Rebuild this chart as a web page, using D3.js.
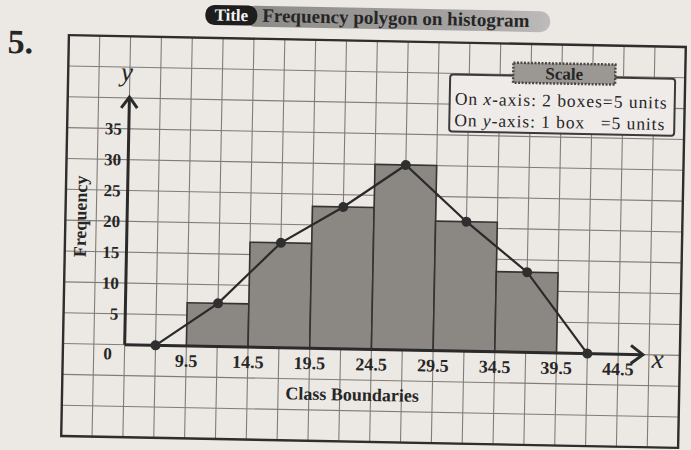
<!DOCTYPE html>
<html>
<head>
<meta charset="utf-8">
<script src="https://cdnjs.cloudflare.com/ajax/libs/d3/7.8.5/d3.min.js"></script>
<style>
  body { margin: 0; background: #ece8e3; }
  svg { display: block; }
  text { font-family: "Liberation Serif", "Times New Roman", serif; fill: #262626; }
</style>
</head>
<body>
<div id="chart"></div>
<script>
// histogram data
var boundaries = [9.5, 14.5, 19.5, 24.5, 29.5, 34.5, 39.5, 44.5];
var frequencies = [7, 17, 23, 30, 21, 13];
// frequency polygon: class midpoints, with an empty class on each side
var midpoints = [7, 12, 17, 22, 27, 32, 37, 42];
var polygonFreq = [0, 7, 17, 23, 30, 21, 13, 0];
var xTickLabels = ["9.5", "14.5", "19.5", "24.5", "29.5", "34.5", "39.5", "44.5"];
var yTicks = [5, 10, 15, 20, 25, 30, 35];

var W = 691, H = 450;

var svg = d3.select("#chart").append("svg")
    .attr("width", W)
    .attr("height", H);

// the page in the scan sits slightly crooked
var page = svg.append("g")
    .attr("transform", "rotate(1.1,373.5,241.7)");

// graph paper: 2 boxes = 5 units on x, 1 box = 5 units on y
var x = d3.scaleLinear().domain([-0.5, 49.5]).range([65, 682]);
var y = d3.scaleLinear().domain([-15, 50]).range([442, 41]);

var grid = page.append("g").attr("class", "grid");
grid.selectAll("line.v")
    .data(d3.range(-0.5, 49.6, 2.5))
  .enter().append("line")
    .attr("class", "v")
    .attr("x1", function(d) { return x(d); })
    .attr("x2", function(d) { return x(d); })
    .attr("y1", y(50)).attr("y2", y(-15))
    .attr("stroke", "#807c79").attr("stroke-width", 1.1);
grid.selectAll("line.h")
    .data(d3.range(-15, 50.1, 5))
  .enter().append("line")
    .attr("class", "h")
    .attr("y1", function(d) { return y(d); })
    .attr("y2", function(d) { return y(d); })
    .attr("x1", x(-0.5)).attr("x2", x(49.5))
    .attr("stroke", "#807c79").attr("stroke-width", 1.1);

// frame
page.append("rect")
    .attr("x", x(-0.5)).attr("y", y(50))
    .attr("width", x(49.5) - x(-0.5))
    .attr("height", y(-15) - y(50))
    .attr("fill", "none")
    .attr("stroke", "#2e2e2e").attr("stroke-width", 2.4);

// histogram bars
var bars = [];
frequencies.forEach(function(f, i) {
  bars.push({ x0: boundaries[i], x1: boundaries[i + 1], f: f });
});
page.selectAll("rect.bar")
    .data(bars)
  .enter().append("rect")
    .attr("class", "bar")
    .attr("x", function(d) { return x(d.x0); })
    .attr("y", function(d) { return y(d.f); })
    .attr("width", function(d) { return x(d.x1) - x(d.x0); })
    .attr("height", function(d) { return y(0) - y(d.f); })
    .attr("fill", "#8b8783")
    .attr("stroke", "#353331").attr("stroke-width", 1.6);

// axes with arrow heads
var ax = page.append("g").attr("stroke", "#2a2a2a").attr("stroke-width", 3).attr("fill", "none");
ax.append("line")
    .attr("x1", x(4.5)).attr("y1", y(0))
    .attr("x2", x(46.5)).attr("y2", y(0));
ax.append("line")
    .attr("x1", x(4.5)).attr("y1", y(0))
    .attr("x2", x(4.5)).attr("y2", y(40) - 1);
ax.append("path")
    .attr("d", "M" + (x(46.5) - 12) + "," + (y(0) - 9) + "L" + x(46.5) + "," + y(0) + "L" + (x(46.5) - 12) + "," + (y(0) + 9));
ax.append("path")
    .attr("d", "M" + (x(4.5) - 8) + "," + (y(40) + 10) + "L" + x(4.5) + "," + (y(40) - 1) + "L" + (x(4.5) + 8) + "," + (y(40) + 10));

// frequency polygon
var line = d3.line()
    .x(function(d, i) { return x(midpoints[i]); })
    .y(function(d) { return y(d); });
page.append("path")
    .datum(polygonFreq)
    .attr("d", line)
    .attr("fill", "none")
    .attr("stroke", "#2a2a2a").attr("stroke-width", 2.2);
page.selectAll("circle.pt")
    .data(polygonFreq)
  .enter().append("circle")
    .attr("class", "pt")
    .attr("cx", function(d, i) { return x(midpoints[i]); })
    .attr("cy", function(d) { return y(d); })
    .attr("r", 5)
    .attr("fill", "#2f2f2f");

// tick labels
page.selectAll("text.xt")
    .data(boundaries)
  .enter().append("text")
    .attr("class", "xt")
    .attr("x", function(d) { return x(d); })
    .attr("y", y(0) + 21)
    .attr("text-anchor", "middle")
    .style("font-size", "18px").style("font-weight", "bold")
    .text(function(d, i) { return xTickLabels[i]; });
page.selectAll("text.yt")
    .data(yTicks)
  .enter().append("text")
    .attr("class", "yt")
    .attr("x", x(4.5) - 7)
    .attr("y", function(d) { return y(d) + 6; })
    .attr("text-anchor", "end")
    .style("font-size", "17px").style("font-weight", "bold")
    .text(function(d) { return d; });
page.append("text")
    .attr("x", x(4.5) - 17).attr("y", y(0) + 15)
    .attr("text-anchor", "middle")
    .style("font-size", "17px").style("font-weight", "bold")
    .text("0");

// axis letters
page.append("text")
    .attr("x", x(4.5) - 3).attr("y", y(40) - 17)
    .attr("text-anchor", "middle")
    .style("font-size", "27px").style("font-style", "italic")
    .text("y");
page.append("text")
    .attr("x", x(46.5) + 15).attr("y", y(0) + 13)
    .attr("text-anchor", "middle")
    .style("font-size", "27px").style("font-style", "italic")
    .text("x");

// axis titles
page.append("text")
    .attr("x", 355).attr("y", 401)
    .attr("text-anchor", "middle")
    .style("font-size", "18px").style("font-weight", "bold")
    .text("Class Boundaries");
page.append("text")
    .attr("transform", "translate(86,222) rotate(-90)")
    .attr("text-anchor", "middle")
    .style("font-size", "18px").style("font-weight", "bold")
    .text("Frequency");

// scale box
page.append("rect")
    .attr("x", 447).attr("y", 73).attr("width", 225).attr("height", 57)
    .attr("rx", 3)
    .attr("fill", "#efebe8")
    .attr("stroke", "#3a3a3a").attr("stroke-width", 2);
page.append("rect")
    .attr("x", 510).attr("y", 60).attr("width", 102).attr("height", 20)
    .attr("fill", "#9b9894")
    .attr("stroke", "#4a4846").attr("stroke-width", 2.5)
    .attr("stroke-dasharray", "2,1.5");
page.append("text")
    .attr("x", 561).attr("y", 76)
    .attr("text-anchor", "middle")
    .style("font-size", "17px").style("font-weight", "bold")
    .text("Scale");
var s1 = page.append("text").attr("x", 452).attr("y", 103)
    .attr("textLength", 212).attr("lengthAdjust", "spacing")
    .style("font-size", "17.5px");
s1.append("tspan").text("On ");
s1.append("tspan").style("font-style", "italic").text("x");
s1.append("tspan").text("-axis: 2 boxes=5 units");
var s2 = page.append("text").attr("x", 452).attr("y", 124.5)
    .attr("textLength", 210).attr("lengthAdjust", "spacing")
    .style("font-size", "17.5px").style("white-space", "pre");
s2.append("tspan").text("On ");
s2.append("tspan").style("font-style", "italic").text("y");
s2.append("tspan").text("-axis: 1 box   =5 units");

// heading
var grad = svg.append("defs").append("linearGradient").attr("id", "band");
grad.append("stop").attr("offset", "0%").attr("stop-color", "#8c8a88");
grad.append("stop").attr("offset", "70%").attr("stop-color", "#a5a3a1");
grad.append("stop").attr("offset", "100%").attr("stop-color", "#bebcba");
page.append("rect")
    .attr("x", 240).attr("y", 8).attr("width", 306).attr("height", 21)
    .attr("rx", 10)
    .attr("fill", "url(#band)");
page.append("rect")
    .attr("x", 201).attr("y", 8).attr("width", 52).attr("height", 20)
    .attr("rx", 9)
    .attr("fill", "#1d1d1d");
page.append("text")
    .attr("x", 227).attr("y", 23.5)
    .attr("text-anchor", "middle")
    .style("font-size", "17px").style("font-weight", "bold")
    .style("fill", "#f4f4f4")
    .text("Title");
page.append("text")
    .attr("x", 258).attr("y", 24)
    .style("font-size", "19px").style("font-weight", "bold")
    .text("Frequency polygon on histogram");

// question number
page.append("text")
    .attr("x", 4).attr("y", 60)
    .style("font-size", "34px").style("font-weight", "bold")
    .text("5.");
</script>
</body>
</html>
